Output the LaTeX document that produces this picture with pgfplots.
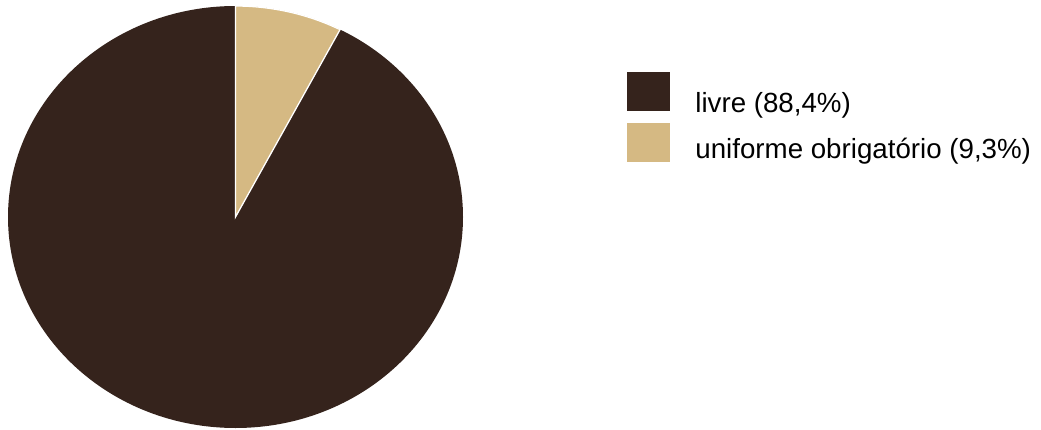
\documentclass[border=0pt]{standalone}
\usepackage{pgfplots}
\pgfplotsset{compat=1.18}
\usepackage{pgfplotstable}
\usepackage{fontspec}
\setmainfont{Liberation Sans}
\definecolor{darkbrown}{RGB}{53,35,28}
\definecolor{tanbrown}{RGB}{213,185,131}
% shares of the pie as drawn (percent of full circle)
\pgfplotstableread{
share
92.4
7.6
}\piedata
\begin{document}
\begin{tikzpicture}
\useasboundingbox (0,0) rectangle (1041pt,429pt);
\pgfplotstablegetelem{1}{share}\of\piedata
\pgfmathsetmacro\tanangle{\pgfplotsretval*3.6}
\pgfmathsetmacro\tanend{90-\tanangle}
\begin{axis}[
  at={(0,0)}, anchor=south west,
  scale only axis, width=1041pt, height=429pt,
  xmin=0, xmax=1041, ymin=0, ymax=429,
  hide axis, clip=false,
  legend cell align=left,
  legend style={at={(axis cs:627,357)}, anchor=north west, draw=none, fill=none,
    font=\fontsize{27.7}{33}\selectfont, inner sep=0pt, row sep=7pt},
]
\addlegendimage{legend image code/.code={\fill[darkbrown,draw=none] (0pt,-8pt) rectangle (43pt,31pt); \path (66pt,0pt);}}
\addlegendentry{livre (88,4\%)}
\addlegendimage{legend image code/.code={\fill[tanbrown,draw=none] (0pt,-13pt) rectangle (43pt,26pt); \path (66pt,0pt);}}
\addlegendentry{uniforme obrigatório (9,3\%)}
\fill[darkbrown] (axis cs:235.5,212) ellipse [x radius=227.5pt, y radius=211pt];
\fill[tanbrown, draw=white, line width=1.3pt] (axis cs:235.5,212) -- (axis cs:235.5,423)
  arc [start angle=90, end angle=\tanend, x radius=227.5pt, y radius=211pt] -- cycle;
\end{axis}
\end{tikzpicture}
\end{document}
